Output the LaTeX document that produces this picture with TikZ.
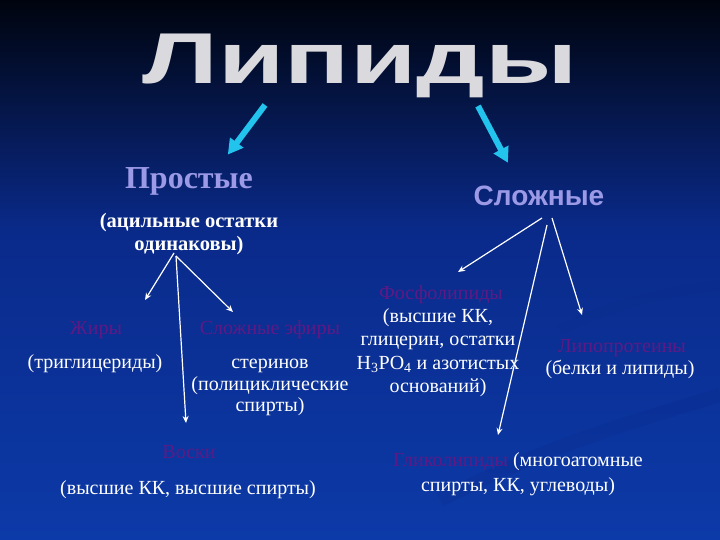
\documentclass[tikz,border=0pt]{standalone}
\usepackage{fontspec}
\setmainfont{Liberation Serif}
\newfontfamily\sansf{Liberation Sans}
\usetikzlibrary{arrows.meta}
\definecolor{bgtop}{HTML}{00040E}
\definecolor{bgmid}{HTML}{0A2A8A}
\definecolor{bgbot}{HTML}{0C3AA8}
\definecolor{lav}{HTML}{9C9AE6}
\definecolor{purp}{HTML}{5E1A84}
\definecolor{cyanA}{HTML}{22C4EE}
\definecolor{swoosh}{HTML}{0A2C8E}
\definecolor{titlecol}{HTML}{DADADE}
\begin{document}
\begin{tikzpicture}[x=1pt,y=-1pt,
  wt/.style={text=white,font=\fontsize{20}{23}\selectfont,inner sep=0pt,anchor=base},
  pt/.style={text=purp,font=\fontsize{20}{23}\selectfont,inner sep=0pt,anchor=base},
  cyarrow/.style={draw=cyanA,line width=6pt,-{Triangle[width=16pt,length=15pt]},shorten >=-2pt},
  wharrow/.style={draw=white,line width=1.2pt,-{Stealth[length=7pt,width=6pt]}}]
\useasboundingbox (0,0) rectangle (720,540);
\shade[top color=bgtop,bottom color=bgmid] (0,0) rectangle (720,230);
\shade[top color=bgmid,bottom color=bgbot] (0,229.5) rectangle (720,540);
% faint swooshes
\draw[swoosh,line width=14pt,opacity=0.3] (440,500) .. controls (560,440) and (640,420) .. (720,395);
\draw[swoosh,line width=10pt,opacity=0.25] (560,330) .. controls (620,300) and (680,290) .. (720,285);
% title
\node[inner sep=0pt,anchor=base,text=titlecol,font=\sansf\bfseries\fontsize{72}{72}\selectfont] (title) at (360,84)
  {\scalebox{1.5}[1]{Липиды}};
% categories
\node[inner sep=0pt,anchor=base,text=lav,font=\bfseries\fontsize{32}{32}\selectfont] (prost) at (189,189) {Простые};
\node[inner sep=0pt,anchor=base,text=lav,font=\sansf\bfseries\fontsize{28}{28}\selectfont] (slozh) at (539,206) {Сложные};
\coordinate (c1s) at (265,105); \coordinate (c1e) at (229,153);
\coordinate (c2s) at (478,106); \coordinate (c2e) at (507,161);
\draw[cyarrow] (c1s) -- (c1e);
\draw[cyarrow] (c2s) -- (c2e);
% left branch
\node[wt,font=\bfseries\fontsize{20.5}{23}\selectfont] (acil1) at (189,228) {(ацильные остатки};
\node[wt,font=\bfseries\fontsize{20.5}{23}\selectfont] (acil2) at (189,251) {одинаковы)};
\node[pt] (zhiry) at (96,334) {Жиры};
\node[wt] (trig) at (95,368) {(триглицериды)};
\node[pt] (efiry) at (270,334) {Сложные эфиры};
\node[wt] (ster1) at (270,368) {стеринов};
\node[wt] (ster2) at (270,390) {(полициклические};
\node[wt] (ster3) at (270,411) {спирты)};
\node[pt] (voski) at (189,458) {Воски};
\node[wt] (vosk2) at (188,494) {(высшие КК, высшие спирты)};
\coordinate (lo) at (174,253);
\coordinate (lo2) at (176,256);
\coordinate (zhT) at (145,300);
\coordinate (efT) at (233,312);
\coordinate (voT) at (186,423);
\draw[wharrow] (lo) -- (zhT);
\draw[wharrow] (lo2) -- (efT);
\draw[wharrow] (lo2) -- (voT);
% right branch
\node[pt] (fosf) at (441,299) {Фосфолипиды};
\node[wt] (f1) at (438,322) {(высшие КК,};
\node[wt] (f2) at (438,345) {глицерин, остатки};
\node[wt] (f3) at (438,369) {H\textsubscript{3}PO\textsubscript{4} и азотистых};
\node[wt] (f4) at (438,392) {оснований)};
\node[pt] (lipo) at (622,352) {Липопротеины};
\node[wt] (lipo2) at (620,374) {(белки и липиды)};
\node[wt] (glik1) at (518,466) {\textcolor{purp}{Гликолипиды} (многоатомные};
\node[wt] (glik2) at (518,491) {спирты, КК, углеводы)};
\coordinate (ro1) at (542,218);
\coordinate (ro2) at (547,225);
\coordinate (ro3) at (552,218);
\coordinate (foT) at (458,272);
\coordinate (glT) at (498,435);
\coordinate (liT) at (582,315);
\draw[wharrow] (ro1) -- (foT);
\draw[wharrow] (ro2) -- (glT);
\draw[wharrow] (ro3) -- (liT);
\end{tikzpicture}
\end{document}
